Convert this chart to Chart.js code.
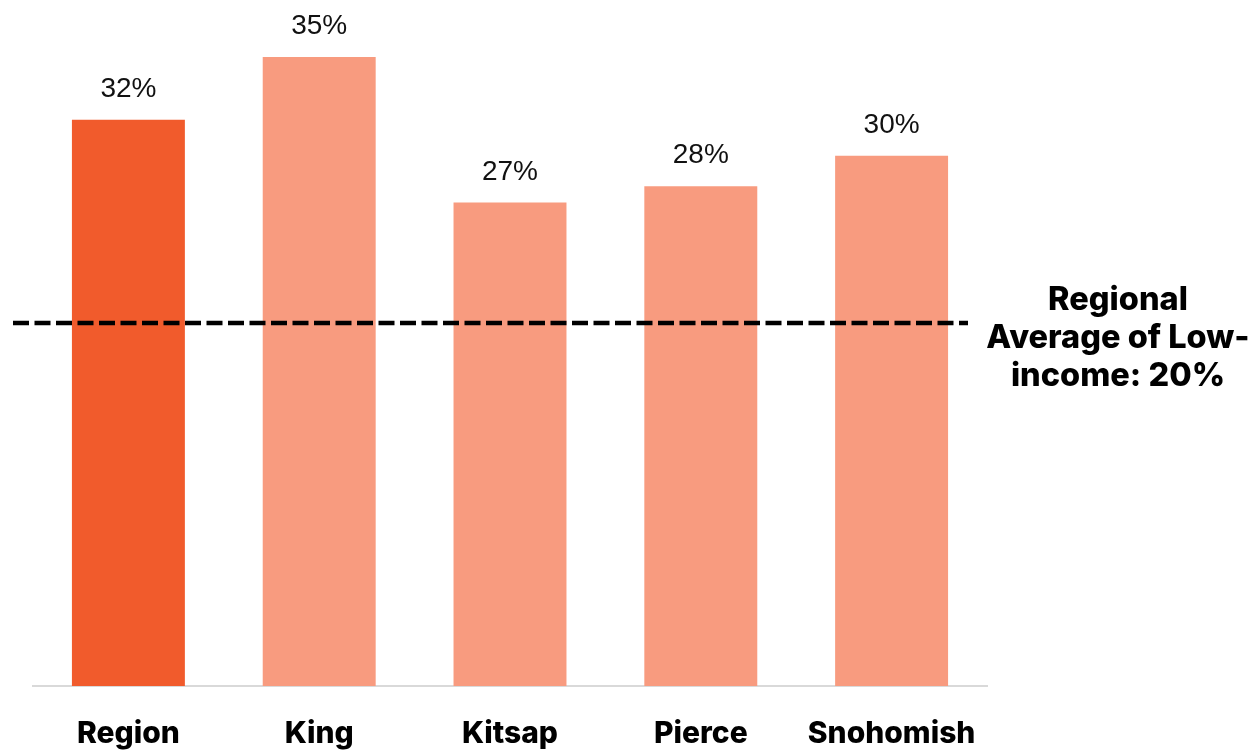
<!DOCTYPE html>
<html>
<head>
<meta charset="utf-8">
<script src="https://cdn.jsdelivr.net/npm/chart.js@4/dist/chart.umd.min.js"></script>
<style>
html,body{margin:0;padding:0;background:#fff;}
#wrap{width:1253px;height:751px;position:relative;}
</style>
</head>
<body>
<div id="wrap"><canvas id="c" width="1253" height="751"></canvas></div>
<script>
const categories = ['Region', 'King', 'Kitsap', 'Pierce', 'Snohomish'];
const shares = [31.5, 35.0, 26.9, 27.8, 29.5];
const barColors = ['#F15B2C', '#F89B7F', '#F89B7F', '#F89B7F', '#F89B7F'];
const regionalAverage = 20.2;
const averageLabel = ['Regional', 'Average of Low-', 'income: 20%'];

const valueLabels = {
  id: 'valueLabels',
  afterDatasetsDraw(chart) {
    const ctx = chart.ctx;
    const meta = chart.getDatasetMeta(0);
    ctx.save();
    ctx.font = '400 28px "Liberation Sans", Arial, sans-serif';
    ctx.fillStyle = '#111';
    ctx.textAlign = 'center';
    ctx.textBaseline = 'alphabetic';
    meta.data.forEach((bar, i) => {
      ctx.fillText(Math.round(shares[i]) + '%', bar.x, bar.y - 23);
    });
    ctx.restore();
  }
};

const avgLine = {
  id: 'avgLine',
  afterDatasetsDraw(chart) {
    const ctx = chart.ctx;
    const a = chart.chartArea;
    const y = chart.scales.y.getPixelForValue(regionalAverage);
    ctx.save();
    ctx.strokeStyle = '#000';
    ctx.lineWidth = 4.5;
    ctx.setLineDash([16, 5.5]);
    ctx.beginPath();
    ctx.moveTo(a.left - 20, y);
    ctx.lineTo(a.right - 19, y);
    ctx.stroke();
    ctx.setLineDash([]);
    ctx.font = '800 32.5px Inter, "Noto Sans", sans-serif';
    ctx.fillStyle = '#000';
    ctx.textAlign = 'center';
    ctx.textBaseline = 'middle';
    const cx = a.right + 131;
    averageLabel.forEach((t, i) => {
      ctx.fillText(t, cx, y - 23 + i * 38);
    });
    ctx.restore();
  }
};

new Chart(document.getElementById('c'), {
  type: 'bar',
  data: {
    labels: categories,
    datasets: [{
      data: shares,
      backgroundColor: barColors,
      borderWidth: 0,
      barPercentage: 0.592,
      categoryPercentage: 1.0
    }]
  },
  options: {
    responsive: false,
    animation: false,
    devicePixelRatio: 1,
    layout: { padding: { left: 33, right: 266, top: 3, bottom: 0 } },
    plugins: { legend: { display: false }, tooltip: { enabled: false } },
    scales: {
      x: {
        grid: { display: false, drawTicks: false },
        border: { display: true, color: '#d9d9d9', width: 2 },
        afterFit(scale) { scale.height = 65; },
        ticks: {
          color: '#000',
          padding: 30,
          font: { family: 'Inter, "Noto Sans", sans-serif', size: 30, weight: '800', lineHeight: 1.2 }
        }
      },
      y: {
        display: false,
        min: 0,
        max: 38
      }
    }
  },
  plugins: [valueLabels, avgLine]
});
</script>
</body>
</html>
